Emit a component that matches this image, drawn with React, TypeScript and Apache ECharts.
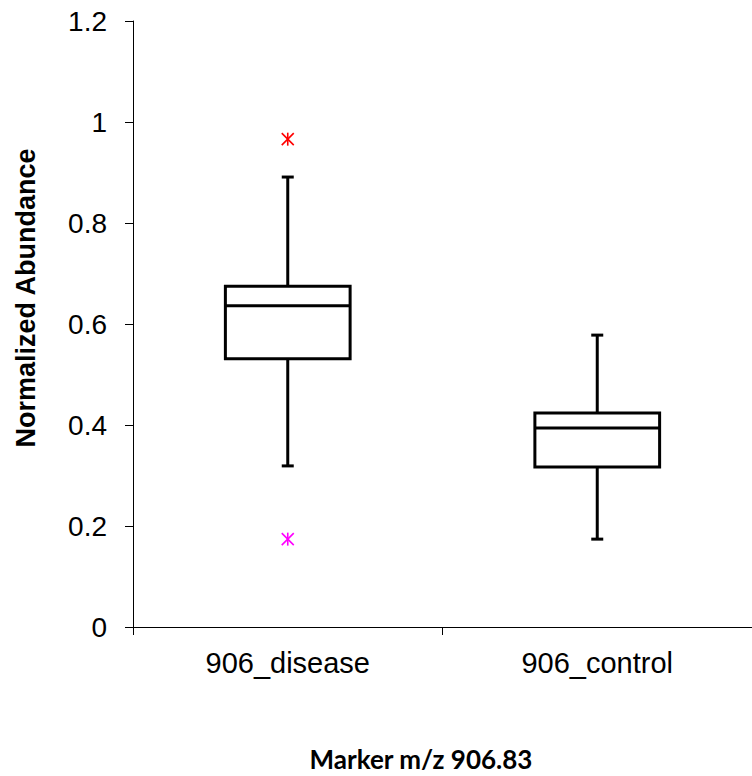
import React, { useEffect, useRef } from "react";
import * as echarts from "echarts";

// ---- data ----
const categories = ["906_disease", "906_control"];
const whiskerLow = [0.319, 0.174];
const q1 = [0.531, 0.317];
const median = [0.636, 0.394];
const q3 = [0.675, 0.424];
const whiskerHigh = [0.891, 0.578];
const outlierCategory = [0, 0];
const outlierValue = [0.966, 0.174];
const yTicks = [0, 0.2, 0.4, 0.6, 0.8, 1, 1.2];

// ---- styles ----
const outlierColors = ["#ff0000", "#ff00ff"];
const yTitle = "Normalized Abundance";
const xTitle = "Marker m/z 906.83";

export default function App() {
  const ref = useRef<HTMLDivElement>(null);
  useEffect(() => {
    if (!ref.current) return;
    const chart = echarts.init(ref.current, null, { renderer: "svg" });
    const boxData = categories.map((_, i) => [i, whiskerLow[i], q1[i], median[i], q3[i], whiskerHigh[i]]);
    const outData = outlierCategory.map((c, i) => [c, outlierValue[i], i]);
    const lineStyle = { stroke: "#000", lineWidth: 3 };
    chart.setOption({
      animation: false,
      grid: { left: 133, top: 21, width: 622, height: 606, containLabel: false },
      xAxis: {
        type: "category",
        data: categories,
        boundaryGap: true,
        axisLine: { lineStyle: { color: "#000", width: 1 } },
        axisTick: { show: true, length: 8, lineStyle: { color: "#000" } },
        axisLabel: { color: "#000", fontFamily: "Liberation Sans", fontSize: 29, margin: 21 },
        splitLine: { show: false },
      },
      yAxis: {
        type: "value",
        min: yTicks[0],
        max: yTicks[yTicks.length - 1],
        interval: yTicks[1] - yTicks[0],
        axisLine: { show: true, lineStyle: { color: "#000", width: 1 } },
        axisTick: { show: true, length: 8, lineStyle: { color: "#000" } },
        axisLabel: {
          color: "#000",
          fontFamily: "Liberation Sans",
          fontSize: 28,
          margin: 26,
          formatter: (v: number) => String(+v.toFixed(1)),
        },
        splitLine: { show: false },
      },
      graphic: [
        {
          type: "text",
          x: 26,
          y: 298,
          rotation: Math.PI / 2,
          style: {
            text: yTitle,
            fontFamily: "Liberation Sans",
            fontWeight: "bold",
            fontSize: 27,
            fill: "#000",
            textAlign: "center",
            textVerticalAlign: "middle",
          },
        },
        {
          type: "text",
          x: 421,
          y: 759,
          style: {
            text: xTitle,
            fontFamily: "Lato",
            fontWeight: "bold",
            fontSize: 26,
            fill: "#000",
            textAlign: "center",
            textVerticalAlign: "middle",
          },
        },
      ],
      series: [
        {
          type: "custom",
          data: boxData,
          encode: { x: 0, y: [1, 2, 3, 4, 5] },
          renderItem: (params: any, api: any) => {
            const idx = api.value(0);
            const lo = api.coord([idx, api.value(1)]);
            const b1 = api.coord([idx, api.value(2)]);
            const md = api.coord([idx, api.value(3)]);
            const b3 = api.coord([idx, api.value(4)]);
            const hi = api.coord([idx, api.value(5)]);
            const bw = api.size([1, 0])[0] * 0.403;
            const cap = 12;
            const cx = lo[0];
            return {
              type: "group",
              children: [
                { type: "line", shape: { x1: cx, y1: hi[1], x2: cx, y2: b3[1] }, style: lineStyle },
                { type: "line", shape: { x1: cx, y1: b1[1], x2: cx, y2: lo[1] }, style: lineStyle },
                { type: "line", shape: { x1: cx - cap / 2, y1: hi[1], x2: cx + cap / 2, y2: hi[1] }, style: lineStyle },
                { type: "line", shape: { x1: cx - cap / 2, y1: lo[1], x2: cx + cap / 2, y2: lo[1] }, style: lineStyle },
                {
                  type: "rect",
                  shape: { x: cx - bw / 2, y: b3[1], width: bw, height: b1[1] - b3[1] },
                  style: { fill: "#fff", stroke: "#000", lineWidth: 3 },
                },
                { type: "line", shape: { x1: cx - bw / 2, y1: md[1], x2: cx + bw / 2, y2: md[1] }, style: lineStyle },
              ],
            };
          },
        },
        {
          type: "custom",
          data: outData,
          encode: { x: 0, y: 1 },
          renderItem: (params: any, api: any) => {
            const p = api.coord([api.value(0), api.value(1)]);
            const color = outlierColors[api.value(2)];
            const h = 6.5;
            const d = 6;
            const st = { stroke: color, lineWidth: 1.6 };
            return {
              type: "group",
              children: [
                { type: "line", shape: { x1: p[0], y1: p[1] - h, x2: p[0], y2: p[1] + h }, style: st },
                { type: "line", shape: { x1: p[0] - d, y1: p[1] - d, x2: p[0] + d, y2: p[1] + d }, style: st },
                { type: "line", shape: { x1: p[0] - d, y1: p[1] + d, x2: p[0] + d, y2: p[1] - d }, style: st },
              ],
            };
          },
        },
      ],
    });
    return () => chart.dispose();
  }, []);
  return (
    <div
      ref={ref}
      style={{ position: "fixed", left: 0, top: 0, width: 752, height: 776, background: "#fff" }}
    />
  );
}
